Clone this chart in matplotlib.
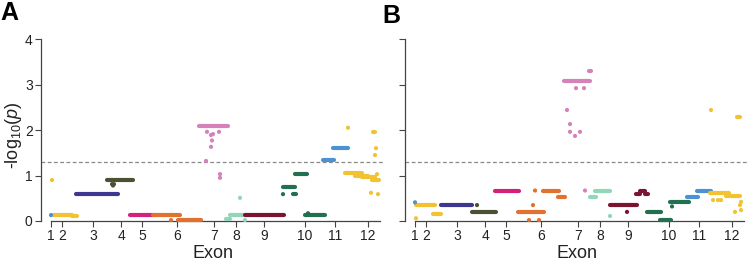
import matplotlib.pyplot as plt

plt.rcParams['font.family'] = ['Liberation Sans', 'DejaVu Sans']
plt.rcParams['mathtext.fontset'] = 'custom'
plt.rcParams['mathtext.rm'] = 'Liberation Sans'
plt.rcParams['mathtext.it'] = 'Liberation Sans:italic'

# exon tick positions (relative genomic position)
exon_pos = [0, 11, 42, 70, 91, 126, 163, 185, 213, 254, 284, 317]
exon_lab = ['1', '2', '3', '4', '5', '6', '7', '8', '9', '10', '11', '12']

cols = {
    'yel': '#f3c232', 'blu': '#4a92d2', 'nav': '#3d3790', 'oli': '#4b5132',
    'mag': '#d3217b', 'ora': '#e2702f', 'pin': '#d581ba', 'min': '#90d7b7',
    'mar': '#7c1431', 'grn': '#22704f',
}

# panel A: runs of overlapping SNPs (start, end, -log10 p, colour)
a_seg_x0 = [2, 21, 25, 56, 79, 102, 127, 148, 162, 175, 179, 194, 232, 242, 244, 254, 272, 282, 294, 304, 311, 321, 322]
a_seg_x1 = [21, 26, 67, 82, 102, 129, 150, 161, 177, 179, 194, 233, 244, 245, 256, 274, 283, 297, 311, 317, 324, 328, 324]
a_seg_y = [0.13, 0.11, 0.59, 0.90, 0.13, 0.13, 0.02, 2.08, 2.08, 0.04, 0.13, 0.13, 0.74, 0.59, 1.03, 0.13, 1.33, 1.60, 1.05, 0.99, 0.96, 0.90, 1.96]
a_seg_c = ['yel', 'yel', 'nav', 'oli', 'mag', 'ora', 'ora', 'pin', 'pin', 'min', 'min', 'mar', 'grn', 'grn', 'grn', 'grn', 'blu', 'blu', 'yel', 'yel', 'yel', 'yel', 'yel']

# panel A: single SNPs
a_pt_x = [0, 1, 61, 63, 62, 120, 156, 160, 162, 168, 161, 160, 155, 169, 169, 189, 194, 232, 257, 297, 325, 324, 320, 327, 326]
a_pt_y = [0.13, 0.90, 0.81, 0.81, 0.78, 0.02, 1.96, 1.89, 1.91, 1.96, 1.77, 1.63, 1.32, 1.03, 0.95, 0.51, 0.02, 0.59, 0.17, 2.05, 1.60, 1.45, 0.62, 0.59, 1.03]
a_pt_c = ['blu', 'yel', 'oli', 'oli', 'oli', 'ora', 'pin', 'pin', 'pin', 'pin', 'pin', 'pin', 'pin', 'pin', 'pin', 'min', 'min', 'grn', 'grn', 'yel', 'yel', 'yel', 'yel', 'yel', 'yel']

# panel B
b_seg_x0 = [1, 18, 26, 57, 80, 103, 128, 143, 149, 174, 175, 180, 195, 221, 225, 230, 232, 245, 255, 272, 282, 295, 311, 322]
b_seg_x1 = [20, 26, 57, 81, 104, 129, 144, 150, 175, 176, 181, 195, 222, 225, 230, 233, 246, 256, 274, 283, 296, 314, 325, 325]
b_seg_y = [0.35, 0.15, 0.35, 0.20, 0.67, 0.20, 0.67, 0.53, 3.07, 3.30, 0.53, 0.67, 0.35, 0.60, 0.66, 0.60, 0.20, 0.02, 0.41, 0.53, 0.67, 0.61, 0.56, 2.29]
b_seg_c = ['yel', 'yel', 'nav', 'oli', 'mag', 'ora', 'ora', 'ora', 'pin', 'pin', 'min', 'min', 'mar', 'mar', 'mar', 'mar', 'grn', 'grn', 'grn', 'blu', 'blu', 'yel', 'yel', 'yel']

b_pt_x = [0, 1, 62, 120, 118, 114, 124, 161, 169, 152, 155, 155, 165, 160, 170, 195, 212, 257, 298, 303, 306, 296, 325, 326, 320, 326]
b_pt_y = [0.41, 0.06, 0.35, 0.67, 0.35, 0.02, 0.02, 2.92, 2.92, 2.44, 2.13, 1.96, 1.96, 1.87, 0.67, 0.11, 0.20, 0.32, 0.46, 0.46, 0.46, 2.44, 0.35, 0.42, 0.20, 0.24]
b_pt_c = ['blu', 'yel', 'oli', 'ora', 'ora', 'ora', 'ora', 'pin', 'pin', 'pin', 'pin', 'pin', 'pin', 'pin', 'pin', 'min', 'mar', 'grn', 'yel', 'yel', 'yel', 'yel', 'yel', 'yel', 'yel', 'yel']

threshold = 1.3

fig = plt.figure(figsize=(7.55, 2.65), dpi=100)
axA = fig.add_axes([41 / 755, 44 / 265, 343 / 755, 182 / 265])
axB = fig.add_axes([405 / 755, 44 / 265, 343 / 755, 182 / 265])


def draw(ax, sx0, sx1, sy, sc, px, py, pc, show_y):
    ax.axhline(threshold, color='#888888', lw=0.9, ls=(0, (3, 2)), zorder=1)
    for x0, x1, y, c in zip(sx0, sx1, sy, sc):
        ax.plot([x0, x1], [y, y], color=cols[c], lw=3.0,
                solid_capstyle='round', clip_on=False, zorder=3)
    ax.scatter(px, py, s=9, c=[cols[c] for c in pc], linewidths=0,
               clip_on=False, zorder=4)
    ax.set_xlim(-10, 333)
    ax.set_ylim(0, 4)
    for s in ['top', 'right']:
        ax.spines[s].set_visible(False)
    ax.spines['left'].set_bounds(0, 4)
    ax.spines['bottom'].set_bounds(0, 329)
    for s in ['left', 'bottom']:
        ax.spines[s].set_color('#444444')
        ax.spines[s].set_linewidth(0.9)
    ax.set_xticks(exon_pos)
    ax.set_xticklabels(exon_lab)
    ax.set_yticks([0, 1, 2, 3, 4])
    if not show_y:
        ax.set_yticklabels([])
    ax.tick_params(length=4, width=0.8, color='#444444', labelsize=10,
                   labelcolor='#222222', pad=2)
    ax.set_xlabel('Exon', fontsize=13, labelpad=1, color='#222222')


draw(axA, a_seg_x0, a_seg_x1, a_seg_y, a_seg_c, a_pt_x, a_pt_y, a_pt_c, True)
draw(axB, b_seg_x0, b_seg_x1, b_seg_y, b_seg_c, b_pt_x, b_pt_y, b_pt_c, False)

fig.text(13 / 755, 1 - 135 / 265, r'-log$_{10}$($\it{p}$)', rotation=90,
         ha='center', va='center', fontsize=13, color='#222222')
fig.text(0 / 755, 1 - 1 / 265, 'A', fontsize=18, fontweight='bold', va='top')
fig.text(382 / 755, 1 - 4 / 265, 'B', fontsize=18, fontweight='bold', va='top')

fig.savefig('out.png', dpi=100)
